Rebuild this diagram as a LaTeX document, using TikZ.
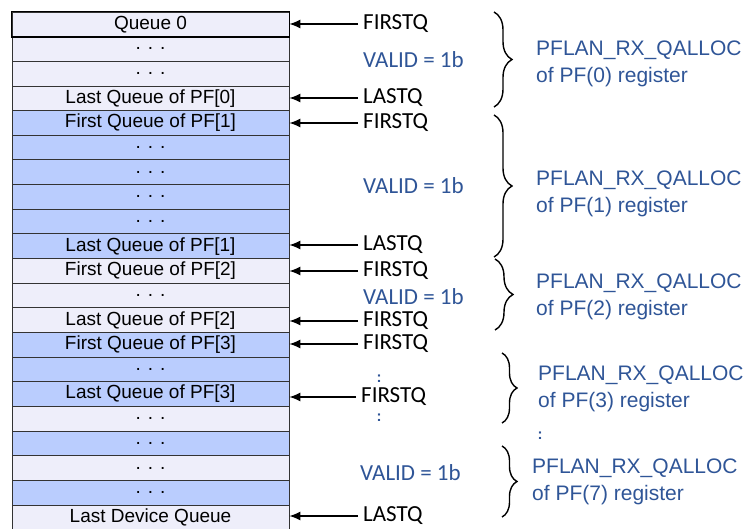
\documentclass[tikz,border=0pt]{standalone}
\usepackage{fontspec}
\setmainfont{Liberation Sans}
\newfontfamily\calibri{Carlito}
\usetikzlibrary{decorations.pathreplacing, arrows.meta}
\definecolor{qlight}{RGB}{238,238,250}
\definecolor{qblue}{RGB}{186,205,254}
\definecolor{regblue}{RGB}{47,85,151}

\begin{document}
\begin{tikzpicture}[x=1pt, y=-1pt,
    row/.style={draw=black!80, line width=0.8pt, minimum width=277pt, minimum height=24.65pt, inner sep=0pt, font=\fontsize{19}{19}\selectfont},
    ptr/.style={-{Latex[length=11pt,width=9pt]}, line width=1.2pt},
    qtag/.style={anchor=west, inner sep=0pt, font=\calibri\fontsize{23}{23}\selectfont},
    valid/.style={qtag, text=regblue},
    reg/.style={anchor=west, align=left, inner sep=0pt, text=regblue, font=\fontsize{21}{27}\selectfont},
    vdots/.style={text=regblue, inner sep=0pt, font=\bfseries\fontsize{15}{15}\selectfont},
    brc/.style={decorate, decoration={brace, amplitude=#1}, line width=1.4pt},
    brc/.default=18pt]
    \useasboundingbox (0,0) rectangle (749,529);
    % Draw the queue table
    \foreach \i/\txt/\fc in {1/Queue 0/qlight, 2/. . ./qlight, 3/. . ./qlight, 4/Last Queue of PF[0]/qlight,
        5/First Queue of PF[1]/qblue, 6/. . ./qblue, 7/. . ./qblue, 8/. . ./qblue, 9/. . ./qblue, 10/Last Queue of PF[1]/qblue,
        11/First Queue of PF[2]/qlight, 12/. . ./qlight, 13/Last Queue of PF[2]/qlight,
        14/First Queue of PF[3]/qblue, 15/. . ./qblue, 16/Last Queue of PF[3]/qblue,
        17/. . ./qlight, 18/. . ./qblue, 19/. . ./qlight, 20/. . ./qblue, 21/Last Device Queue/qlight}
        \node[row, fill=\fc] (q\i) at (150.5, {12+(\i-0.5)*24.65}) {\txt};
    \draw[line width=1.6pt] (q1.north west) rectangle (q1.south east);

    % Pointer labels
    \node[qtag] (f0) at (363,24) {FIRSTQ};
    \node[valid] (v0) at (363,60) {VALID = 1b};
    \node[qtag] (l0) at (363,98) {LASTQ};
    \node[qtag] (f1) at (363,123) {FIRSTQ};
    \node[valid] (v1) at (363,186) {VALID = 1b};
    \node[qtag] (l1) at (363,245) {LASTQ};
    \node[qtag] (f2) at (363,271) {FIRSTQ};
    \node[valid] (v2) at (363,297) {VALID = 1b};
    \node[qtag] (l2) at (363,321) {FIRSTQ};
    \node[qtag] (f3) at (363,344) {FIRSTQ};
    \node[qtag] (l3) at (361,397) {FIRSTQ};
    \node[valid] (v7) at (360,473) {VALID = 1b};
    \node[qtag] (l7) at (363,516) {LASTQ};
    \node[vdots] (d1) at (379,379) {:};
    \node[vdots] (d2) at (379,418) {:};

    % Arrows into the table
    \foreach \t/\r in {f0/1, l0/4, f1/5, l1/10, f2/11, l2/13, f3/14, l3/16, l7/21}
        \draw[ptr] ([xshift=-5pt]\t.west) -- (\t.west -| q\r.east);

    % Braces and register names
    \draw[brc] (494,12) -- (494,107);
    \draw[brc] (494,115) -- (494,257);
    \draw[brc] (495,259) -- (495,330);
    \draw[brc=15pt] (502,353) -- (502,423);
    \draw[brc=15pt] (502,446) -- (502,517);
    \node[reg] (r0) at (536,63.5) {PFLAN\_RX\_QALLOC\\of PF(0) register};
    \node[reg] (r1) at (536,193.5) {PFLAN\_RX\_QALLOC\\of PF(1) register};
    \node[reg] (r2) at (536,296.5) {PFLAN\_RX\_QALLOC\\of PF(2) register};
    \node[reg] (r3) at (538,388.5) {PFLAN\_RX\_QALLOC\\of PF(3) register};
    \node[vdots] (d3) at (540,436) {:};
    \node[reg] (r7) at (532,481.5) {PFLAN\_RX\_QALLOC\\of PF(7) register};
\end{tikzpicture}
\end{document}
